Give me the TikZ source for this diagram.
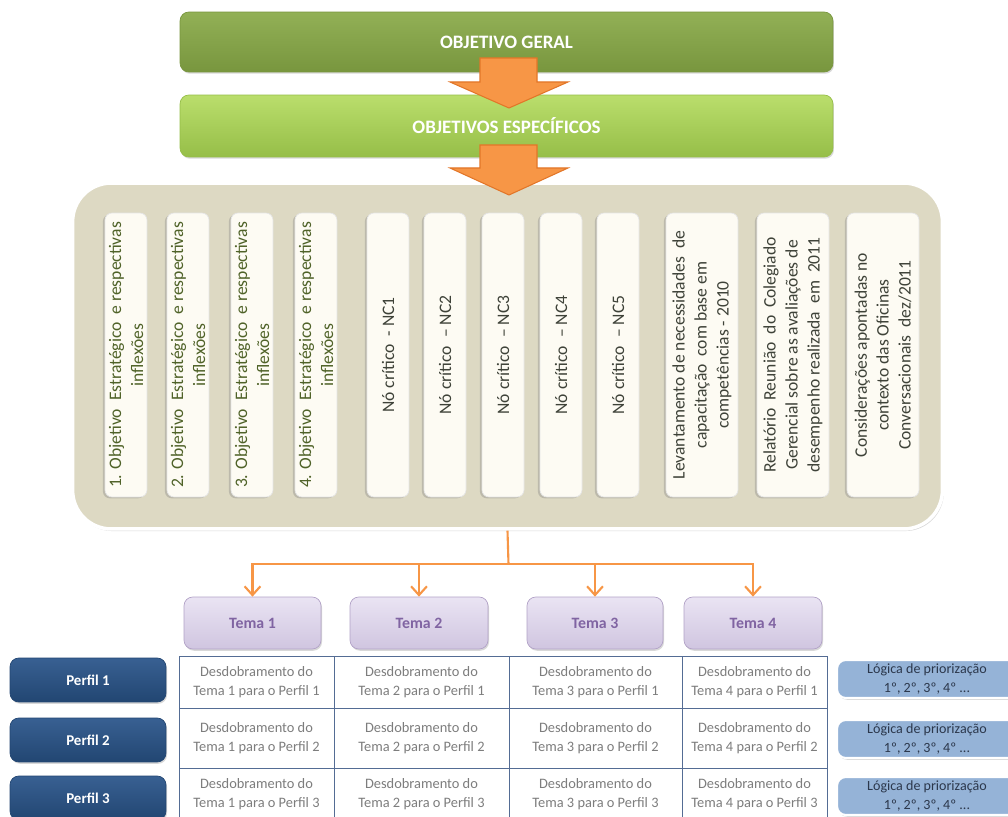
\documentclass[tikz,border=0pt]{standalone}
\usepackage{fontspec}
\setmainfont{Carlito}
\usetikzlibrary{shadows,arrows.meta}

\definecolor{verdeA}{RGB}{146,176,86}
\definecolor{verdeB}{RGB}{120,150,62}
\definecolor{verdeC}{RGB}{186,222,108}
\definecolor{verdeD}{RGB}{150,190,72}
\definecolor{areia}{RGB}{221,217,195}
\definecolor{creme}{RGB}{253,251,243}
\definecolor{laranja}{RGB}{247,150,70}
\definecolor{laranjaesc}{RGB}{226,118,40}
\definecolor{lilasA}{RGB}{234,228,243}
\definecolor{lilasB}{RGB}{208,197,224}
\definecolor{lilasbord}{RGB}{178,162,199}
\definecolor{roxo}{RGB}{128,100,162}
\definecolor{marinhoA}{RGB}{56,96,146}
\definecolor{marinhoB}{RGB}{34,70,114}
\definecolor{azulclaro}{RGB}{149,179,215}
\definecolor{oliva}{RGB}{79,98,40}
\definecolor{grafite}{RGB}{62,66,56}
\definecolor{cinzatab}{RGB}{125,125,125}
\definecolor{linhatab}{RGB}{84,108,148}
\definecolor{azulesc}{RGB}{44,56,76}

\tikzset{
  sombra/.style={drop shadow={opacity=0.3, shadow xshift=0.6pt, shadow yshift=-1pt}},
  titulo/.style={sombra, rounded corners=5pt, minimum width=13.06cm, text=white,
    font=\fontsize{10.8}{12}\selectfont\bfseries},
  coluna/.style={rotate=90, fill=creme, draw=white!80!gray, rounded corners=4pt,
    minimum width=5.68cm, minimum height=0.84cm, inner sep=0pt, align=center,
    font=\fontsize{10}{12.5}\selectfont,
    drop shadow={opacity=0.35, shadow xshift=-1.2pt, shadow yshift=-0.8pt}},
  colunalarga/.style={coluna, minimum height=1.44cm, text=grafite},
  setabloco/.style={fill=laranja, draw=laranjaesc, line width=0.6pt, line join=miter},
  fio/.style={draw=laranja, line width=1.2pt},
  tema/.style={sombra, rounded corners=5pt, top color=lilasA, bottom color=lilasB,
    draw=lilasbord, minimum height=1.04cm, text=roxo,
    font=\fontsize{9}{11}\selectfont\bfseries},
  perfil/.style={sombra, rounded corners=5pt, top color=marinhoA, bottom color=marinhoB,
    draw=marinhoB, minimum width=3.12cm, minimum height=0.88cm, text=white,
    font=\fontsize{8.5}{10}\selectfont\bfseries},
  celula/.style={draw=linhatab, line width=0.5pt, minimum height=1.04cm, align=center,
    inner sep=0pt, text=cinzatab, font=\fontsize{8.2}{10.8}\selectfont},
  logica/.style={sombra, fill=azulclaro, draw=white, line width=1.2pt, rounded corners=5pt,
    minimum width=3.6cm, minimum height=0.76cm, align=center, inner sep=0pt,
    text=azulesc, font=\fontsize{8}{10.4}\selectfont}
}

\begin{document}
\begin{tikzpicture}[x=0.02cm, y=-0.02cm]
  \clip (0,0) rectangle (1008,817);
  \fill[white] (0,0) rectangle (1008,817);

  % Objetivos
  \node[titulo, top color=verdeA, bottom color=verdeB, draw=verdeB, minimum height=1.2cm]
    (geral) at (506.5,42) {OBJETIVO GERAL};
  \node[titulo, top color=verdeC, bottom color=verdeD, draw=verdeD, minimum height=1.24cm]
    (espec) at (506.5,126) {OBJETIVOS ESPECÍFICOS};

  % Fundo com as fontes
  \node[fill=areia, draw=white, line width=2pt, rounded corners=22pt,
    minimum width=17.4cm, minimum height=6.92cm,
    drop shadow={opacity=0.3, shadow xshift=0.8pt, shadow yshift=-1.2pt}]
    (fundo) at (507.5,356) {};

  % Setas em bloco
  \filldraw[setabloco] (480,58) -- (537,58) -- (537,82) -- (568,82) -- (509,108)
    -- (450,82) -- (480,82) -- cycle;
  \filldraw[setabloco] (480,145) -- (537,145) -- (537,168) -- (568,168) -- (509,195)
    -- (450,168) -- (480,168) -- cycle;

  % Colunas verticais
  \node[coluna, text=oliva] (ob1) at (126,355) {1. Objetivo\ \ Estratégico\ \ e respectivas\\inflexões};
  \node[coluna, text=oliva] (ob2) at (188,355) {2. Objetivo\ \ Estratégico\ \ e respectivas\\inflexões};
  \node[coluna, text=oliva] (ob3) at (252,355) {3. Objetivo\ \ Estratégico\ \ e respectivas\\inflexões};
  \node[coluna, text=oliva] (ob4) at (316,355) {4. Objetivo\ \ Estratégico\ \ e respectivas\\inflexões};
  \node[coluna, text=grafite] (nc1) at (388,355) {Nó crítico\ \ -\ NC1};
  \node[coluna, text=grafite] (nc2) at (445,355) {Nó crítico\ \ –\ NC2};
  \node[coluna, text=grafite] (nc3) at (503,355) {Nó crítico\ \ –\ NC3};
  \node[coluna, text=grafite] (nc4) at (561,355) {Nó crítico\ \ –\ NC4};
  \node[coluna, text=grafite] (nc5) at (618,355) {Nó crítico\ \ –\ NC5};
  \node[colunalarga] (lev) at (702,355)
    {Levantamento de necessidades\ \ de\\capacitação\ \ com base em\\competências - 2010};
  \node[colunalarga] (rel) at (793,355)
    {Relatório\ \ Reunião\ \ do\ \ Colegiado\\Gerencial sobre as avaliações de\\desempenho realizada\ \ em\ \ 2011};
  \node[colunalarga] (con) at (883,355)
    {Considerações apontadas no\\contexto das Oficinas\\Conversacionais\ \ dez/2011};

  % Temas
  \node[tema, minimum width=2.74cm] (tema1) at (252.5,623) {Tema 1};
  \node[tema, minimum width=2.76cm] (tema2) at (419,623) {Tema 2};
  \node[tema, minimum width=2.72cm] (tema3) at (595,623) {Tema 3};
  \node[tema, minimum width=2.76cm] (tema4) at (753,623) {Tema 4};

  % Ligacoes laranja
  \coordinate (junc) at (508.5,564);
  \draw[fio] (fundo.south) -- (junc);
  \draw[fio, -{Straight Barb[length=5pt,width=9pt]}] (junc) -| (tema1.north);
  \draw[fio, -{Straight Barb[length=5pt,width=9pt]}] (junc) -| (tema2.north);
  \draw[fio, -{Straight Barb[length=5pt,width=9pt]}] (junc) -| (tema3.north);
  \draw[fio, -{Straight Barb[length=5pt,width=9pt]}] (junc) -| (tema4.north);

  % Perfis
  \node[perfil] (perfil1) at (88,680) {Perfil 1};
  \node[perfil] (perfil2) at (88,740) {Perfil 2};
  \node[perfil] (perfil3) at (88,798) {Perfil 3};

  % Tabela dos desdobramentos
  \foreach \t/\cx/\w in {1/256.5/3.1cm, 2/421.5/3.5cm, 3/595.5/3.46cm, 4/754.5/2.9cm} {
    \node[celula, minimum width=\w] (d\t1) at (\cx,682)
      {Desdobramento do\\Tema \t\ para o Perfil 1};
    \node[celula, minimum width=\w, minimum height=1.2cm] (d\t2) at (\cx,738)
      {Desdobramento do\\Tema \t\ para o Perfil 2};
    \node[celula, minimum width=\w] (d\t3) at (\cx,794)
      {Desdobramento do\\Tema \t\ para o Perfil 3};
  }

  % Logica de priorizacao
  \node[logica] (log1) at (927,679) {Lógica de priorização\\1º,\ 2º,\ 3º,\ 4º ...};
  \node[logica] (log2) at (927,739) {Lógica de priorização\\1º,\ 2º,\ 3º,\ 4º ...};
  \node[logica] (log3) at (927,796) {Lógica de priorização\\1º,\ 2º,\ 3º,\ 4º ...};
\end{tikzpicture}
\end{document}
